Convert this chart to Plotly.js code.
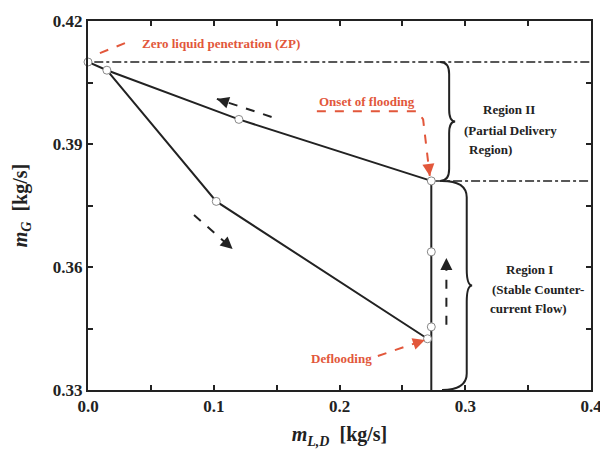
<!DOCTYPE html>
<html><head><meta charset="utf-8">
<script src="https://cdn.plot.ly/plotly-3.0.1.min.js"></script>
<style>body{margin:0;background:#fff}#c{width:600px;height:451px}</style>
</head><body><div id="c"></div>
<script>
// ---- data ----
const upperX = [0.0, 0.015, 0.12, 0.273];
const upperY = [0.410, 0.408, 0.396, 0.381];
const lowerX = [0.015, 0.102, 0.270];
const lowerY = [0.408, 0.376, 0.3425];
const vertX = [0.273, 0.273];
const vertY = [0.330, 0.381];
const markerX = [0.0, 0.015, 0.12, 0.273, 0.102, 0.273, 0.273, 0.270];
const markerY = [0.410, 0.408, 0.396, 0.381, 0.376, 0.3637, 0.3454, 0.3425];
const zpLineX = [0.005, 0.4];
const zpLineY = [0.410, 0.410];
const floodLineX = [0.276, 0.4];
const floodLineY = [0.381, 0.381];
// region braces: [xLeft, xRight, yTop, yBottom, stemFraction]
const braceII = [0.280, 0.292, 0.410, 0.381, 0.6];
const braceI = [0.2815, 0.3055, 0.381, 0.330, 0.82];
// black dashed direction arrows: [tailX, tailY, headX, headY]
const arrowUp = [0.146, 0.3966, 0.1025, 0.4010];
const arrowDown = [0.0843, 0.3727, 0.115, 0.3644];
const arrowVert = [0.285, 0.3459, 0.285, 0.3622];
// red callouts
const zpPath = {x: [0.0294, 0.004], y: [0.4146, 0.4115]};
const onsetPath = {x: [0.182, 0.262, 0.2665, 0.2718], y: [0.3980, 0.3980, 0.3960, 0.3822]};
const deflPath = {x: [0.2305, 0.2679], y: [0.3383, 0.3422]};
const xTickVals = [0.0, 0.1, 0.2, 0.3, 0.4];
const xTickText = ['0.0', '0.1', '0.2', '0.3', '0.4'];
const yTickVals = [0.33, 0.36, 0.39, 0.42];
const yTickText = ['0.33', '0.36', '0.39', '0.42'];

const RED = '#e2573b';
const INK = '#222';
const FONT = 'Liberation Serif';

function brace(b) {
  const [x0, x1, yT, yB, sf] = b;
  const xs = x0 + (x1 - x0) * sf, yM = (yT + yB) / 2, r = Math.min((yT - yB) * 0.1, 0.004);
  return `M${x0},${yT} Q${xs},${yT} ${xs},${yT - r} L${xs},${yM + r} Q${xs},${yM} ${x1},${yM} ` +
         `Q${xs},${yM} ${xs},${yM - r} L${xs},${yB + r} Q${xs},${yB} ${x0},${yB}`;
}

const traces = [
  {x: zpLineX, y: zpLineY, mode: 'lines', line: {color: INK, width: 1.5, dash: 'dashdot'}},
  {x: floodLineX, y: floodLineY, mode: 'lines', line: {color: INK, width: 1.5, dash: 'dashdot'}},
  {x: upperX, y: upperY, mode: 'lines', line: {color: INK, width: 2}},
  {x: lowerX, y: lowerY, mode: 'lines', line: {color: INK, width: 2}},
  {x: vertX, y: vertY, mode: 'lines', line: {color: INK, width: 2}},
  {x: [arrowUp[0], arrowUp[2]], y: [arrowUp[1], arrowUp[3]], mode: 'lines', line: {color: INK, width: 2, dash: 'dash'}},
  {x: [arrowDown[0], arrowDown[2]], y: [arrowDown[1], arrowDown[3]], mode: 'lines', line: {color: INK, width: 2, dash: 'dash'}},
  {x: [arrowVert[0], arrowVert[2]], y: [arrowVert[1], arrowVert[3]], mode: 'lines', line: {color: INK, width: 2, dash: 'dash'}},
  {x: zpPath.x, y: zpPath.y, mode: 'lines', line: {color: RED, width: 2, dash: 'dash'}},
  {x: onsetPath.x, y: onsetPath.y, mode: 'lines', line: {color: RED, width: 2, dash: 'dash'}},
  {x: deflPath.x, y: deflPath.y, mode: 'lines', line: {color: RED, width: 2, dash: 'dash'}},
  {x: markerX, y: markerY, mode: 'markers', cliponaxis: false,
   marker: {symbol: 'circle', size: 8, color: '#fff', line: {color: '#888', width: 1}}}
].map(t => Object.assign({showlegend: false, hoverinfo: 'skip'}, t));

function head(a, color) {
  const f = 0.12;
  return {x: a[2], y: a[3], ax: a[2] - (a[2] - a[0]) * f, ay: a[3] - (a[3] - a[1]) * f,
    xref: 'x', yref: 'y', axref: 'x', ayref: 'y', text: '', showarrow: true,
    arrowhead: 2, arrowsize: 1.2, arrowwidth: 2, arrowcolor: color};
}
function pathHead(p, color) {
  const n = p.x.length;
  return head([p.x[n - 2], p.y[n - 2], p.x[n - 1], p.y[n - 1]], color);
}
function txt(x, y, text, color, size) {
  return {x: x, y: y, xref: 'x', yref: 'y', text: text, showarrow: false,
    font: {family: FONT, size: size || 13, color: color}};
}

const annotations = [
  head(arrowUp, INK), head(arrowDown, INK), head(arrowVert, INK),
  pathHead(zpPath, RED), pathHead(onsetPath, RED), pathHead(deflPath, RED),
  txt(0.106, 0.4146, '<b>Zero liquid penetration (ZP)</b>', RED),
  txt(0.2218, 0.4003, '<b>Onset of flooding</b>', RED),
  txt(0.2015, 0.3378, '<b>Deflooding</b>', RED),
  txt(0.335, 0.3983, '<b>Region II</b>', INK),
  txt(0.336, 0.3934, '<b>(Partial Delivery</b>', INK),
  txt(0.320, 0.3886, '<b>Region)</b>', INK),
  txt(0.351, 0.3595, '<b>Region I</b>', INK),
  txt(0.358, 0.3546, '<b>(Stable Counter-</b>', INK),
  txt(0.350, 0.3500, '<b>current Flow)</b>', INK)
];

const axisCommon = {
  showgrid: false, zeroline: false, showline: true, linecolor: INK, linewidth: 2,
  mirror: 'ticks', ticks: 'inside', ticklen: 5, tickwidth: 2, tickcolor: INK,
  ticklabeloverflow: 'allow',
  tickfont: {family: FONT, size: 17, color: INK}
};

const layout = {
  width: 600, height: 451,
  margin: {l: 88, r: 9, t: 21, b: 61},
  paper_bgcolor: '#fff', plot_bgcolor: '#fff',
  font: {family: FONT},
  xaxis: Object.assign({}, axisCommon, {
    range: [0, 0.4], tickvals: xTickVals, ticktext: xTickText.map(s => '<b>' + s + '</b>'),
    minor: {dtick: 0.05, tick0: 0, ticks: 'inside', ticklen: 5, tickwidth: 2, tickcolor: INK},
    title: {text: '<b><i>m</i><sub><i>L,D</i></sub>  [kg/s]</b>', font: {family: FONT, size: 20, color: INK}, standoff: 12}
  }),
  yaxis: Object.assign({}, axisCommon, {
    range: [0.33, 0.42], tickvals: yTickVals, ticktext: yTickText.map(s => '<b>' + s + '</b>'),
    minor: {dtick: 0.015, tick0: 0.33, ticks: 'inside', ticklen: 5, tickwidth: 2, tickcolor: INK},
    title: {text: '<b><i>m</i><sub><i>G</i></sub>  [kg/s]</b>', font: {family: FONT, size: 20, color: INK}, standoff: 20}
  }),
  shapes: [
    {type: 'path', xref: 'x', yref: 'y', path: brace(braceII), line: {color: INK, width: 2}},
    {type: 'path', xref: 'x', yref: 'y', path: brace(braceI), line: {color: INK, width: 2}}
  ],
  annotations: annotations
};

Plotly.newPlot('c', traces, layout, {staticPlot: true, displayModeBar: false});
</script></body></html>
